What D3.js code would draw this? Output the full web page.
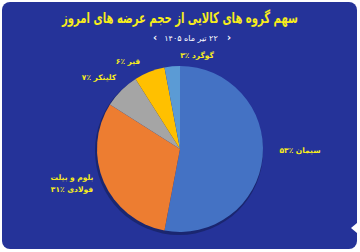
<!DOCTYPE html>
<html>
<head>
<meta charset="utf-8">
<script src="https://cdn.jsdelivr.net/npm/d3@7"></script>
<style>
  body { margin: 0; background: #ffffff; }
  svg text { font-family: "DejaVu Sans", sans-serif; }
</style>
</head>
<body>
<svg id="pie" width="360" height="252"></svg>
<script>
var categories = ["سیمان", "بلوم و بیلت فولادی", "کلینکر", "قیر", "گوگرد"];
var shares = [53, 31, 7, 6, 3];
var labelLines = [["سیمان ٪۵۳"], ["بلوم و بیلت", "فولادی ٪۳۱"], ["کلینکر ٪۷"], ["قیر ٪۶"], ["گوگرد ٪۳"]];
var colors = ["#4472c4", "#ed7d31", "#a5a5a5", "#ffc000", "#5b9bd5"];
var title = "سهم گروه های کالایی از حجم عرضه های امروز";
var dateText = "۲۲ تیر ماه ۱۴۰۵";

var svg = d3.select("#pie"),
    width = +svg.attr("width"),
    height = +svg.attr("height"),
    cx = 180, cy = 149, radius = 83;

// card background
svg.append("rect")
    .attr("x", 2).attr("y", 2)
    .attr("width", width - 5).attr("height", height - 5)
    .attr("rx", 8)
    .attr("fill", "#253399");

// little notch on the right edge
svg.append("path")
    .attr("d", "M357,223 L351,228 L357,233 Z")
    .attr("fill", "#ffffff");

svg.append("text")
    .attr("x", cx).attr("y", 23)
    .attr("text-anchor", "middle")
    .attr("direction", "rtl")
    .attr("font-size", 15)
    .attr("font-weight", "bold")
    .attr("textLength", 236)
    .attr("lengthAdjust", "spacingAndGlyphs")
    .attr("fill", "#f7ec1c")
    .text(title);

svg.append("text")
    .attr("x", 191).attr("y", 41)
    .attr("text-anchor", "middle")
    .attr("direction", "rtl")
    .attr("font-size", 8)
    .attr("fill", "#ffffff")
    .text(dateText);

svg.append("text").attr("x", 229).attr("y", 41).attr("text-anchor", "middle")
    .attr("font-size", 10).attr("font-weight", "bold").attr("fill", "#ffffff").text("›");
svg.append("text").attr("x", 155).attr("y", 41).attr("text-anchor", "middle")
    .attr("font-size", 10).attr("font-weight", "bold").attr("fill", "#ffffff").text("‹");

var pie = d3.pie().sort(null).value(function (d) { return d; });
var arc = d3.arc().innerRadius(0).outerRadius(radius);

var g = svg.append("g")
    .attr("transform", "translate(" + cx + "," + cy + ")");

g.append("circle")
    .attr("cx", -1).attr("cy", 2)
    .attr("r", radius + 1)
    .attr("fill", "#1a2670");

g.selectAll("path.slice")
    .data(pie(shares))
    .enter().append("path")
    .attr("class", "slice")
    .attr("d", arc)
    .attr("fill", function (d, i) { return colors[i]; });

// label centres in page pixels
var labelPos = [[300, 153], [72, 180], [99, 80], [128, 64], [197, 58]];

labelLines.forEach(function (lines, i) {
    var t = svg.append("text")
        .attr("text-anchor", "middle")
        .attr("direction", "rtl")
        .attr("font-size", 7.5)
        .attr("font-weight", "bold")
        .attr("fill", "#f7ec1c");
    lines.forEach(function (ln, j) {
        t.append("tspan")
            .attr("x", labelPos[i][0])
            .attr("y", labelPos[i][1] + j * 12)
            .text(ln);
    });
});
</script>
</body>
</html>
